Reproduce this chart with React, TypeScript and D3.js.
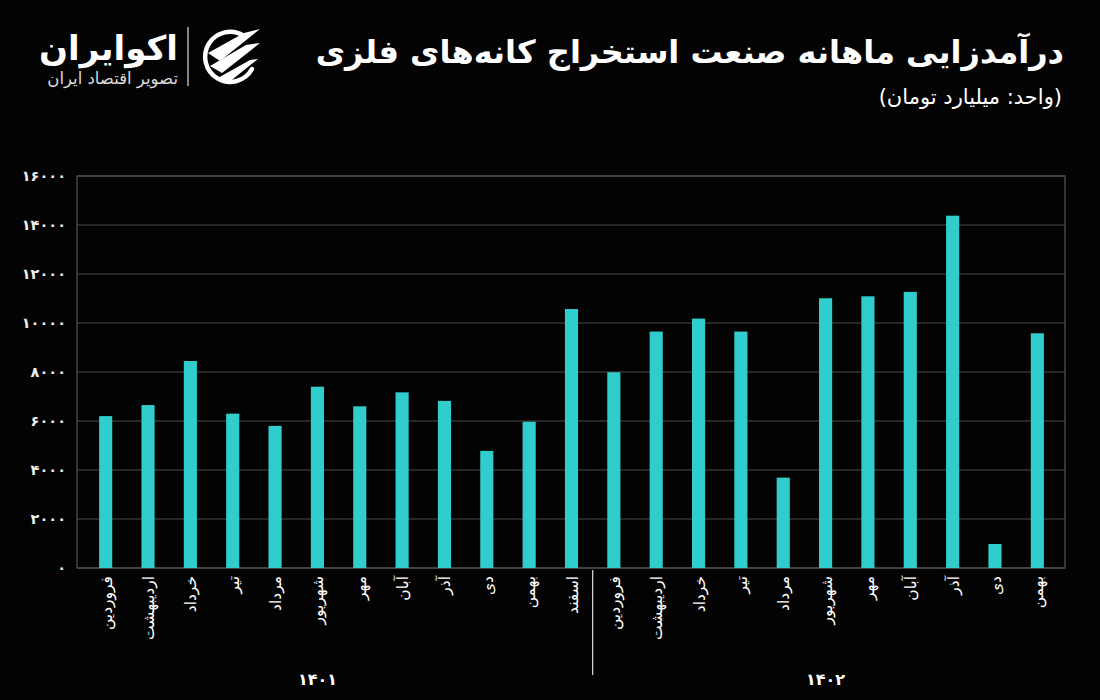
import React from "react";
import * as d3 from "d3";

const months = ["فروردین", "اردیبهشت", "خرداد", "تیر", "مرداد", "شهریور", "مهر", "آبان", "آذر", "دی", "بهمن", "اسفند"];
const years = ["۱۴۰۱", "۱۴۰۲"];
const values1401 = [6200, 6650, 8450, 6300, 5800, 7400, 6600, 7170, 6820, 4780, 5970, 10570];
const values1402 = [7990, 9650, 10180, 9650, 3690, 11010, 11090, 11270, 14380, 980, 9580];
const yTicks = [0, 2000, 4000, 6000, 8000, 10000, 12000, 14000, 16000];

const title = "درآمدزایی ماهانه صنعت استخراج کانه‌های فلزی";
const subtitle = "(واحد: میلیارد تومان)";
const brand = "اکوایران";
const brandSub = "تصویر اقتصاد ایران";

const toFa = (n: number) => String(n).replace(/\d/g, (d) => "۰۱۲۳۴۵۶۷۸۹"[+d]);

type Row = { key: string; month: string; year: number; value: number };
const rows: Row[] = [
  ...values1401.map((v, i) => ({ key: `0-${i}`, month: months[i], year: 0, value: v })),
  ...values1402.map((v, i) => ({ key: `1-${i}`, month: months[i], year: 1, value: v })),
];

const W = 1100;
const H = 700;
const plot = { left: 77, right: 1065, top: 176, bottom: 568 };
const FONT = "'DejaVu Sans', sans-serif";
const BAR = "#31CDCD";

export default function App() {
  const x = d3
    .scaleBand<string>()
    .domain(rows.map((r) => r.key))
    .range([84.5, 1058.5])
    .paddingInner(0.69)
    .paddingOuter(0.345);
  const y = d3.scaleLinear().domain([0, 16000]).range([plot.bottom, plot.top]);
  const bw = x.bandwidth();
  const cx = (k: string) => (x(k) ?? 0) + bw / 2;
  const divX = (cx("0-11") + cx("1-0")) / 2;

  return (
    <svg width={W} height={H} style={{ display: "block", position: "absolute", left: 0, top: 0, background: "#030303" }}>
      <rect x={0} y={0} width={W} height={H} fill="#030303" />

      {/* logo */}
      <g transform="translate(230,57)">
        <path d="M 14 -21 A 25 25 0 1 0 22 12" fill="none" stroke="#fff" strokeWidth={4.5} strokeLinecap="round" />
        <path d="M -22 -4 L 14 -24 L 30 -28 L -10 4 Z" fill="#fff" />
        <path d="M -20 9 L 16 -12 L 30 -14 L -8 16 Z" fill="#fff" />
        <path d="M -14 22 L 20 3 L 28 2 L -2 26 Z" fill="#fff" />
      </g>
      <line x1={188} x2={188} y1={27} y2={86} stroke="#ddd" strokeWidth={1.2} />
      <text x={178} y={60} textAnchor="end" fill="#fff" fontFamily={FONT} fontWeight="bold" fontSize={34}>
        {brand}
      </text>
      <text x={178} y={84} textAnchor="end" fill="#ddd" fontFamily={FONT} fontSize={16.5}>
        {brandSub}
      </text>

      {/* title */}
      <text x={1064} y={63} textAnchor="end" fill="#fff" fontFamily={FONT} fontWeight="bold" fontSize={32}>
        {title}
      </text>
      <text x={1062} y={104} textAnchor="end" fill="#fff" fontFamily={FONT} fontSize={21}>
        {subtitle}
      </text>

      {/* grid */}
      {yTicks.map((t) => (
        <g key={t}>
          <line x1={plot.left} x2={plot.right} y1={y(t)} y2={y(t)} stroke="#4d4d4d" strokeWidth={1} />
          <text x={66} y={y(t)} dy="0.35em" textAnchor="end" fill="#eee" fontFamily={FONT} fontWeight="bold" fontSize={14.5}>
            {toFa(t)}
          </text>
        </g>
      ))}
      <rect
        x={plot.left}
        y={plot.top}
        width={plot.right - plot.left}
        height={plot.bottom - plot.top}
        fill="none"
        stroke="#555"
        strokeWidth={1.2}
      />

      {/* bars */}
      {rows.map((r) => (
        <rect key={r.key} x={x(r.key)} y={y(r.value)} width={bw} height={y(0) - y(r.value)} fill={BAR} />
      ))}

      {/* month labels */}
      {rows.map((r) => (
        <text
          key={"l" + r.key}
          transform={`translate(${cx(r.key) + 6},576) rotate(-90)`}
          textAnchor="end"
          fill="#fff"
          fontFamily={FONT}
          fontSize={15.5}
        >
          {r.month}
        </text>
      ))}

      <line x1={divX} x2={divX} y1={570} y2={675} stroke="#ddd" strokeWidth={1.2} />

      {years.map((yr, i) => (
        <text
          key={yr}
          x={cx(`${i}-5`)}
          y={685}
          textAnchor="middle"
          fill="#fff"
          fontFamily={FONT}
          fontWeight="bold"
          fontSize={16}
        >
          {yr}
        </text>
      ))}
    </svg>
  );
}
